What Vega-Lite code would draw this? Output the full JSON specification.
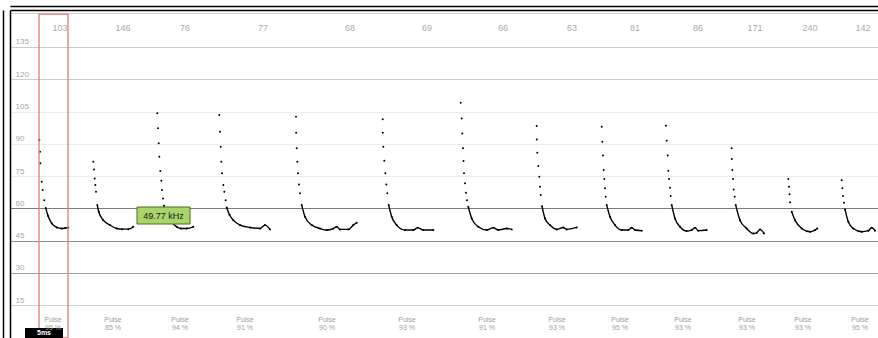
{
  "$schema": "https://vega.github.io/schema/vega-lite/v6.json",
  "width": 868,
  "height": 328,
  "autosize": "none",
  "padding": {"left": 10, "top": 10, "right": 0, "bottom": 0},
  "background": "white",
  "config": {"view": {"stroke": null}, "font": "Liberation Sans"},
  "datasets": {
    "calls": [
      {"c":1,"t":29.3,"f":91.7},{"c":1,"t":30,"f":86.3},{"c":1,"t":30.3,"f":80.9},{"c":1,"t":31.7,"f":72.4},{"c":1,"t":32.7,"f":68.5},{"c":1,"t":34.3,"f":63.8},{"c":1,"t":35.7,"f":60.1},{"c":1,"t":38,"f":56.5},{"c":1,"t":41.7,"f":53},{"c":1,"t":46.7,"f":51.1},{"c":1,"t":51.7,"f":50.6},{"c":1,"t":55,"f":50.8},{"c":1,"t":58.3,"f":51.1},
      {"c":2,"t":83.3,"f":81.7},{"c":2,"t":84,"f":78.1},{"c":2,"t":84.7,"f":73.9},{"c":2,"t":85.3,"f":70.8},{"c":2,"t":86,"f":67.7},{"c":2,"t":87.3,"f":61.5},{"c":2,"t":88.7,"f":58.4},{"c":2,"t":93.3,"f":54.5},{"c":2,"t":100,"f":52.2},{"c":2,"t":106.7,"f":50.6},{"c":2,"t":112,"f":50.3},{"c":2,"t":118.3,"f":50.3},{"c":2,"t":123.3,"f":51.4},
      {"c":3,"t":147.3,"f":104.2},{"c":3,"t":148,"f":97.2},{"c":3,"t":148.7,"f":90.2},{"c":3,"t":149.3,"f":84},{"c":3,"t":150.3,"f":77.3},{"c":3,"t":151.3,"f":72.8},{"c":3,"t":152,"f":68.5},{"c":3,"t":153,"f":64.6},{"c":3,"t":154,"f":61.2},{"c":3,"t":156.5,"f":57.5},{"c":3,"t":160,"f":54.5},{"c":3,"t":166.7,"f":51.4},{"c":3,"t":171,"f":50.6},{"c":3,"t":176.7,"f":50.6},{"c":3,"t":183.3,"f":51.4},
      {"c":4,"t":209.3,"f":103.4},{"c":4,"t":210,"f":95.6},{"c":4,"t":210.7,"f":88.6},{"c":4,"t":211.3,"f":81.7},{"c":4,"t":212,"f":76.3},{"c":4,"t":213.3,"f":70.8},{"c":4,"t":214.3,"f":67.7},{"c":4,"t":215.7,"f":63.8},{"c":4,"t":216.7,"f":60.4},{"c":4,"t":219.5,"f":57},{"c":4,"t":223.3,"f":54.5},{"c":4,"t":230,"f":52.2},{"c":4,"t":240,"f":51.1},{"c":4,"t":250,"f":50.6},{"c":4,"t":255,"f":52.2},{"c":4,"t":260,"f":50.2},
      {"c":5,"t":286,"f":102.6},{"c":5,"t":286.1,"f":95.1},{"c":5,"t":286.7,"f":87.9},{"c":5,"t":287.3,"f":81.7},{"c":5,"t":288,"f":76.3},{"c":5,"t":289,"f":71.1},{"c":5,"t":290,"f":67},{"c":5,"t":291.7,"f":61.5},{"c":5,"t":295,"f":56.1},{"c":5,"t":301.7,"f":52.2},{"c":5,"t":310,"f":50.6},{"c":5,"t":316.7,"f":49.9},{"c":5,"t":323.3,"f":50.6},{"c":5,"t":326.7,"f":51.4},{"c":5,"t":330,"f":50.2},{"c":5,"t":338.3,"f":50.2},{"c":5,"t":343.3,"f":52.2},{"c":5,"t":346.7,"f":53.3},
      {"c":6,"t":372.7,"f":101.4},{"c":6,"t":372.8,"f":95.1},{"c":6,"t":373.3,"f":88.6},{"c":6,"t":374.3,"f":82.1},{"c":6,"t":375.3,"f":76.3},{"c":6,"t":376.3,"f":71.1},{"c":6,"t":377.3,"f":67},{"c":6,"t":378.7,"f":61.5},{"c":6,"t":381.7,"f":56.1},{"c":6,"t":386.7,"f":52.2},{"c":6,"t":395,"f":49.9},{"c":6,"t":403.3,"f":49.9},{"c":6,"t":407.7,"f":51},{"c":6,"t":413.3,"f":49.9},{"c":6,"t":423.3,"f":49.9},
      {"c":7,"t":450.7,"f":109.1},{"c":7,"t":451.7,"f":101.8},{"c":7,"t":452.3,"f":94.8},{"c":7,"t":453,"f":87.9},{"c":7,"t":453.5,"f":82},{"c":7,"t":454,"f":76.3},{"c":7,"t":455,"f":71.6},{"c":7,"t":456,"f":67.2},{"c":7,"t":457,"f":63.8},{"c":7,"t":458.3,"f":60.7},{"c":7,"t":461.7,"f":55.3},{"c":7,"t":468.3,"f":51.4},{"c":7,"t":476.7,"f":49.9},{"c":7,"t":483.3,"f":51},{"c":7,"t":488.3,"f":49.9},{"c":7,"t":496.7,"f":50.6},{"c":7,"t":501.7,"f":50.2},
      {"c":8,"t":526.7,"f":98.3},{"c":8,"t":526.8,"f":92},{"c":8,"t":527.3,"f":85.8},{"c":8,"t":528.3,"f":79.7},{"c":8,"t":529.3,"f":74.7},{"c":8,"t":530,"f":70},{"c":8,"t":530.7,"f":66.2},{"c":8,"t":532,"f":61},{"c":8,"t":535,"f":55.3},{"c":8,"t":540,"f":52.2},{"c":8,"t":546.7,"f":50.2},{"c":8,"t":553.3,"f":51.1},{"c":8,"t":556.7,"f":50.2},{"c":8,"t":566.7,"f":51.1},
      {"c":9,"t":591.7,"f":97.9},{"c":9,"t":592.3,"f":91},{"c":9,"t":593,"f":84.5},{"c":9,"t":593.7,"f":77.8},{"c":9,"t":594.3,"f":73.6},{"c":9,"t":595,"f":69.3},{"c":9,"t":595.7,"f":65.4},{"c":9,"t":596.7,"f":61.5},{"c":9,"t":600,"f":56.1},{"c":9,"t":605,"f":52.2},{"c":9,"t":611.7,"f":49.9},{"c":9,"t":618.3,"f":49.9},{"c":9,"t":621.7,"f":51},{"c":9,"t":625,"f":49.9},{"c":9,"t":631.7,"f":49.6},
      {"c":10,"t":656,"f":98.4},{"c":10,"t":656.7,"f":91.4},{"c":10,"t":657.7,"f":84.5},{"c":10,"t":658.3,"f":77.5},{"c":10,"t":659,"f":73.6},{"c":10,"t":660,"f":69.6},{"c":10,"t":660.7,"f":65.7},{"c":10,"t":661.7,"f":61.5},{"c":10,"t":665,"f":55.3},{"c":10,"t":670,"f":51.4},{"c":10,"t":676.7,"f":49.4},{"c":10,"t":681.7,"f":49.9},{"c":10,"t":685,"f":51},{"c":10,"t":688.3,"f":49.6},{"c":10,"t":696.7,"f":49.9},
      {"c":11,"t":721.7,"f":87.9},{"c":11,"t":721.8,"f":82.9},{"c":11,"t":722.3,"f":77.8},{"c":11,"t":723,"f":73.6},{"c":11,"t":723.7,"f":68.8},{"c":11,"t":724.7,"f":65.4},{"c":11,"t":725.7,"f":61.5},{"c":11,"t":730,"f":54.5},{"c":11,"t":736.7,"f":50.6},{"c":11,"t":743.3,"f":48.3},{"c":11,"t":746.7,"f":48.6},{"c":11,"t":750,"f":50.2},{"c":11,"t":754,"f":48.3},
      {"c":12,"t":778.3,"f":73.6},{"c":12,"t":779,"f":70},{"c":12,"t":779.5,"f":66.5},{"c":12,"t":780,"f":62.8},{"c":12,"t":781.7,"f":58.4},{"c":12,"t":785,"f":54.5},{"c":12,"t":791.7,"f":50.6},{"c":12,"t":800,"f":49.1},{"c":12,"t":805,"f":49.9},{"c":12,"t":807.3,"f":50.6},
      {"c":13,"t":831.7,"f":73.1},{"c":13,"t":832.3,"f":69.3},{"c":13,"t":833,"f":65.7},{"c":13,"t":834,"f":62.6},{"c":13,"t":835,"f":59.5},{"c":13,"t":838.3,"f":53.7},{"c":13,"t":843.3,"f":50.6},{"c":13,"t":851.7,"f":49.1},{"c":13,"t":858.3,"f":49.6},{"c":13,"t":861.7,"f":51},{"c":13,"t":865,"f":49.6}
    ],
    "intervals": [
      {"t":50,"lbl":"103"},{"t":113,"lbl":"146"},{"t":175,"lbl":"76"},{"t":253,"lbl":"77"},{"t":340,"lbl":"68"},{"t":417,"lbl":"69"},{"t":493,"lbl":"66"},{"t":562,"lbl":"63"},{"t":625,"lbl":"81"},{"t":688,"lbl":"86"},{"t":745,"lbl":"171"},{"t":800,"lbl":"240"},{"t":853,"lbl":"142"}
    ],
    "pulses": [
      {"t":43,"lbl":"Pulse\n95 %"},{"t":103,"lbl":"Pulse\n85 %"},{"t":170,"lbl":"Pulse\n94 %"},{"t":235,"lbl":"Pulse\n91 %"},{"t":317,"lbl":"Pulse\n90 %"},{"t":397,"lbl":"Pulse\n93 %"},{"t":477,"lbl":"Pulse\n91 %"},{"t":547,"lbl":"Pulse\n93 %"},{"t":610,"lbl":"Pulse\n95 %"},{"t":673,"lbl":"Pulse\n93 %"},{"t":737,"lbl":"Pulse\n93 %"},{"t":793,"lbl":"Pulse\n93 %"},{"t":850,"lbl":"Pulse\n95 %"}
    ],
    "selected": [{"t0":29,"t1":58,"f0":150.3,"f1":-0.3}],
    "cursor": [{"t0":127,"t1":180,"f0":52.7,"f1":60.6,"tm":153.5,"fm":56.6,"lbl":"49.77 kHz"}],
    "scalebar": [{"t0":15,"t1":53,"f0":-0.3,"f1":4.3,"tm":34,"fm":2,"lbl":"5ms"}]
  },
  "layer": [
    {
      "data": {"name": "calls"},
      "mark": {"type": "point", "opacity": 0},
      "encoding": {
        "x": {"field": "t", "type": "quantitative", "scale": {"domain": [0, 868], "nice": false, "zero": false},
          "axis": {"orient": "top", "offset": 4, "domain": true, "domainColor": "#000", "domainWidth": 1.5, "ticks": false, "labels": false, "grid": false, "title": null}},
        "y": {"field": "f", "type": "quantitative", "scale": {"domain": [-0.3, 152.2], "nice": false, "zero": false},
          "axis": {"orient": "left", "offset": 7, "domain": true, "domainColor": "#000", "domainWidth": 1.5, "ticks": false, "labels": false, "grid": false, "title": null}}
      }
    },
    {
      "data": {"name": "calls"},
      "mark": {"type": "point", "filled": true, "color": "#000", "size": 4, "opacity": 1},
      "encoding": {
        "x": {"field": "t", "type": "quantitative",
          "axis": {"orient": "top", "offset": 0, "domain": true, "domainColor": "#000", "domainWidth": 1.5, "ticks": false, "labels": false, "grid": false, "title": null}},
        "y": {"field": "f", "type": "quantitative",
          "axis": {"orient": "left", "offset": 0, "values": [15, 30, 45, 60, 75, 90, 105, 120, 135, 150.8],
            "labelExpr": "datum.value > 140 ? '' : datum.label",
            "grid": true,
            "gridColor": {"condition": [
              {"test": "datum.value == 60", "value": "#7a7a7a"},
              {"test": "datum.value == 45", "value": "#8e8e8e"},
              {"test": "datum.value == 30", "value": "#a0a0a0"},
              {"test": "datum.value == 120 || datum.value == 135", "value": "#cccccc"},
              {"test": "datum.value == 15 || datum.value > 140", "value": "#d0d0d0"}
            ], "value": "#ececec"},
            "ticks": false, "domain": true, "domainColor": "#000", "domainWidth": 1.5,
            "labelAlign": "left", "labelPadding": -5, "labelBaseline": "bottom", "labelOffset": -1,
            "labelColor": "#a8a8a8", "labelFontSize": 8, "labelFlush": false, "labelOverlap": false, "title": null}}
      }
    },
    {
      "data": {"name": "calls"},
      "transform": [{"filter": "datum.f <= 62"}],
      "mark": {"type": "line", "color": "#000", "strokeWidth": 1.4, "interpolate": "monotone"},
      "encoding": {
        "x": {"field": "t", "type": "quantitative", "axis": null},
        "y": {"field": "f", "type": "quantitative", "axis": null},
        "detail": {"field": "c", "type": "nominal"}
      }
    },
    {
      "data": {"name": "selected"},
      "mark": {"type": "rect", "fill": null, "stroke": "#e07a7a", "strokeWidth": 1.3},
      "encoding": {
        "x": {"field": "t0", "type": "quantitative", "axis": null},
        "x2": {"field": "t1"},
        "y": {"field": "f0", "type": "quantitative", "axis": null},
        "y2": {"field": "f1"}
      }
    },
    {
      "data": {"name": "cursor"},
      "mark": {"type": "rect", "fill": "#a9d46a", "stroke": "#4d6b22", "strokeWidth": 1},
      "encoding": {
        "x": {"field": "t0", "type": "quantitative", "axis": null},
        "x2": {"field": "t1"},
        "y": {"field": "f0", "type": "quantitative", "axis": null},
        "y2": {"field": "f1"}
      }
    },
    {
      "data": {"name": "cursor"},
      "mark": {"type": "text", "fontSize": 9, "color": "#1a1a1a", "align": "center", "baseline": "middle"},
      "encoding": {
        "x": {"field": "tm", "type": "quantitative", "axis": null},
        "y": {"field": "fm", "type": "quantitative", "axis": null},
        "text": {"field": "lbl"}
      }
    },
    {
      "data": {"name": "scalebar"},
      "mark": {"type": "rect", "fill": "#000"},
      "encoding": {
        "x": {"field": "t0", "type": "quantitative", "axis": null},
        "x2": {"field": "t1"},
        "y": {"field": "f0", "type": "quantitative", "axis": null},
        "y2": {"field": "f1"}
      }
    },
    {
      "data": {"name": "scalebar"},
      "mark": {"type": "text", "fontSize": 7, "color": "#fff", "align": "center", "baseline": "middle", "fontWeight": "bold"},
      "encoding": {
        "x": {"field": "tm", "type": "quantitative", "axis": null},
        "y": {"field": "fm", "type": "quantitative", "axis": null},
        "text": {"field": "lbl"}
      }
    },
    {
      "data": {"name": "intervals"},
      "mark": {"type": "text", "fontSize": 9, "color": "#aaaaaa", "align": "center", "baseline": "middle"},
      "encoding": {
        "x": {"field": "t", "type": "quantitative", "axis": null},
        "y": {"datum": 143.8, "type": "quantitative", "axis": null},
        "text": {"field": "lbl"}
      }
    },
    {
      "data": {"name": "pulses"},
      "mark": {"type": "text", "fontSize": 7, "color": "#a0a0a0", "align": "center", "baseline": "middle", "lineBreak": "\n", "lineHeight": 8},
      "encoding": {
        "x": {"field": "t", "type": "quantitative", "axis": null},
        "y": {"datum": 8.3, "type": "quantitative", "axis": null},
        "text": {"field": "lbl"}
      }
    }
  ],
  "resolve": {"axis": {"x": "independent", "y": "independent"}}
}
